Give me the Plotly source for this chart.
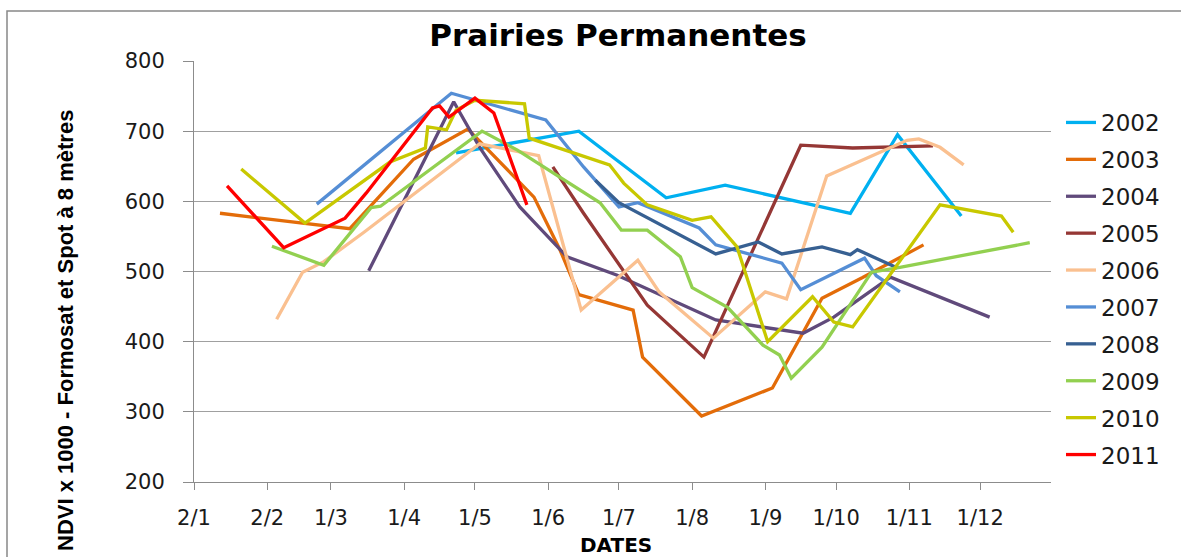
import plotly.graph_objects as go

BASE_YEAR = "2002"  # common calendar used to overlay all years

dates_2002 = ["04-23", "06-14", "07-21", "08-15", "10-07", "10-27", "11-23"]
ndvi_2002 = [669, 700, 605, 623, 583, 695, 579]

dates_2003 = ["01-13", "03-09", "04-05", "04-28", "05-26", "06-06", "06-14", "07-07",
              "07-11", "08-05", "09-04", "09-25", "10-12", "11-07"]
ndvi_2003 = [583, 561, 660, 703, 606, 531, 467, 445, 378, 294, 334, 462, 491, 538]

dates_2004 = ["03-17", "04-22", "05-03", "05-20", "06-09", "06-30", "08-11", "09-17",
              "09-30", "10-24", "12-05"]
ndvi_2004 = [501, 742, 677, 592, 521, 495, 431, 412, 435, 492, 435]

dates_2005 = ["06-03", "06-16", "07-13", "08-06", "09-16", "10-08", "11-11"]
ndvi_2005 = [649, 583, 452, 378, 680, 676, 679]

dates_2006 = ["02-06", "02-17", "02-26", "03-15", "05-03", "05-12", "05-28", "06-15",
              "07-09", "07-18", "08-10", "09-01", "09-10", "09-27", "10-31", "11-05",
              "11-14", "11-24"]
ndvi_2006 = [432, 499, 514, 556, 682, 676, 665, 445, 516, 471, 405, 471, 461, 636,
             687, 689, 677, 652]

dates_2007 = ["02-23", "04-21", "05-31", "06-16", "07-01", "07-09", "08-04", "08-11",
              "09-08", "09-16", "10-13", "10-18", "10-28"]
ndvi_2007 = [596, 754, 716, 649, 592, 598, 562, 538, 512, 474, 519, 494, 471]

dates_2008 = ["06-21", "07-01", "08-11", "08-29", "09-08", "09-25", "10-07", "10-10", "10-27"]
ndvi_2008 = [630, 598, 525, 542, 525, 535, 524, 531, 505]

dates_2009 = ["02-04", "02-26", "03-18", "03-22", "05-04", "05-19", "06-23", "07-02",
              "07-13", "07-27", "08-01", "08-16", "08-31", "09-07", "09-12", "09-25",
              "10-16", "10-28", "12-22"]
ndvi_2009 = [536, 509, 591, 593, 700, 673, 598, 559, 559, 521, 477, 449, 395, 381,
             348, 392, 499, 506, 541]

dates_2010 = ["01-22", "02-18", "03-26", "04-10", "04-11", "04-19", "04-23", "05-01",
              "05-22", "05-24", "06-27", "07-03", "07-13", "08-01", "08-09", "08-20",
              "09-02", "09-21", "09-30", "10-08", "11-14", "12-10", "12-15"]
ndvi_2010 = [646, 569, 656, 676, 706, 702, 730, 744, 739, 690, 652, 626, 595, 573,
             578, 535, 400, 464, 428, 421, 595, 579, 556]

dates_2011 = ["01-16", "02-09", "03-07", "03-16", "04-13", "04-16", "04-20", "05-01",
              "05-09", "05-23"]
ndvi_2011 = [622, 534, 576, 612, 733, 736, 720, 747, 726, 595]

series_names = ["2002", "2003", "2004", "2005", "2006", "2007", "2008", "2009", "2010", "2011"]
series_dates = [dates_2002, dates_2003, dates_2004, dates_2005, dates_2006,
                dates_2007, dates_2008, dates_2009, dates_2010, dates_2011]
series_values = [ndvi_2002, ndvi_2003, ndvi_2004, ndvi_2005, ndvi_2006,
                 ndvi_2007, ndvi_2008, ndvi_2009, ndvi_2010, ndvi_2011]
series_colors = ["#00B0F0", "#E36C09", "#604A7B", "#953735", "#FAC090",
                 "#558ED5", "#376092", "#92D050", "#C8C800", "#FF0000"]

tick_dates = ["01-02", "02-02", "03-01", "04-01", "05-01", "06-01", "07-01",
              "08-01", "09-01", "10-01", "11-01", "12-01"]
tick_labels = ["2/1", "2/2", "1/3", "1/4", "1/5", "1/6", "1/7", "1/8", "1/9",
               "1/10", "1/11", "1/12"]

fig = go.Figure()
for name, d, v, c in zip(series_names, series_dates, series_values, series_colors):
    fig.add_trace(go.Scatter(
        x=[f"{BASE_YEAR}-{s}" for s in d], y=v, mode="lines", name=name,
        legendgroup=name, line=dict(color=c, width=3.3)))

W, H = 1181, 557
L, R, T, B = 194, 1051, 61, 482
pw, ph = R - L, B - T


def px(xp):
    return (xp - L) / pw


def py(yp):
    return (B - yp) / ph


axis_grey = "#8C8C8C"
tick_font = dict(family="DejaVu Sans", size=21, color="#1a1a1a")

fig.update_layout(
    width=W, height=H,
    margin=dict(l=L, r=W - R, t=T, b=H - B),
    paper_bgcolor="white", plot_bgcolor="white",
    title=dict(text="Prairies Permanentes", x=px(618), xref="paper",
               y=1 - 35 / H, yref="container", xanchor="center", yanchor="middle",
               font=dict(family="DejaVu Sans", size=31, color="black", weight="bold")),
    xaxis=dict(type="date", range=[f"{BASE_YEAR}-01-02", f"{BASE_YEAR}-12-31"],
               tickvals=[f"{BASE_YEAR}-{s}" for s in tick_dates], ticktext=tick_labels,
               showgrid=False, showline=True, linecolor=axis_grey, linewidth=1,
               ticks="outside", ticklen=7, tickcolor=axis_grey, tickfont=tick_font,
               ticklabelstandoff=10, zeroline=False),
    yaxis=dict(range=[200, 800], dtick=100, tick0=200, showgrid=True, gridcolor="#A0A0A0",
               gridwidth=1, showline=True, linecolor=axis_grey, linewidth=1,
               ticks="outside", ticklen=10, tickcolor=axis_grey, tickfont=tick_font,
               ticklabelstandoff=14, zeroline=False),
    legend=dict(x=px(1061), xanchor="left", y=py(101), yanchor="top",
                font=dict(family="DejaVu Sans", size=23, color="#1a1a1a"),
                tracegroupgap=4, bgcolor="rgba(0,0,0,0)"),
    showlegend=True,
    shapes=[dict(type="rect", xref="paper", yref="paper",
                 x0=px(7), x1=px(1220), y0=py(620), y1=py(11),
                 line=dict(color="#888888", width=1.5), fillcolor="rgba(0,0,0,0)",
                 layer="below")],
    annotations=[
        dict(text="NDVI x 1000 - Formosat et Spot à 8 mètres", textangle=-90,
             x=px(65), y=py(331), xref="paper", yref="paper", showarrow=False,
             xanchor="center", yanchor="middle",
             font=dict(family="Liberation Sans", size=22,
                       color="black", weight="bold")),
        dict(text="DATES", x=px(616), y=py(545), xref="paper", yref="paper",
             showarrow=False, xanchor="center", yanchor="middle",
             font=dict(family="DejaVu Sans", size=20, color="black", weight="bold")),
    ],
)

fig.write_html("out.html", config={"displayModeBar": False},
               post_script="document.body.style.margin='0';")
